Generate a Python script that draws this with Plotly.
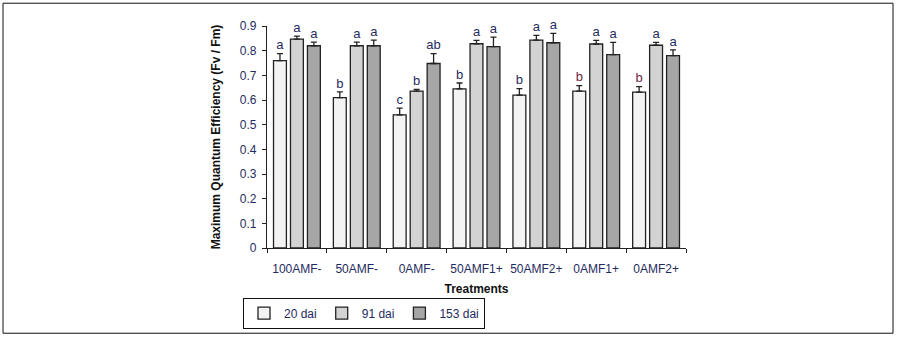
import plotly.graph_objects as go

treatments = ["100AMF-", "50AMF-", "0AMF-", "50AMF1+", "50AMF2+", "0AMF1+", "0AMF2+"]

dai20 = [0.76, 0.61, 0.54, 0.645, 0.62, 0.636, 0.632]
dai20_err = [0.028, 0.023, 0.027, 0.024, 0.026, 0.022, 0.022]
dai20_letters = ["a", "b", "c", "b", "b", "b", "b"]

dai91 = [0.847, 0.82, 0.636, 0.828, 0.843, 0.827, 0.822]
dai91_err = [0.012, 0.015, 0.007, 0.014, 0.019, 0.015, 0.012]
dai91_letters = ["a", "a", "b", "a", "a", "a", "a"]

dai153 = [0.82, 0.82, 0.748, 0.816, 0.832, 0.784, 0.78]
dai153_err = [0.015, 0.023, 0.04, 0.039, 0.038, 0.05, 0.023]
dai153_letters = ["a", "a", "ab", "a", "a", "a", "a"]

FONT = "Liberation Sans, Arial, sans-serif"
NARROW = "Liberation Sans Narrow, Arial Narrow, Liberation Sans, sans-serif"
NAVY = "#1f2b5e"
# the late "b"s are printed in maroon
dai20_letter_cols = [NAVY, NAVY, NAVY, NAVY, NAVY, "#6e1f45", "#6e1f45"]

series = [
    ("20 dai", dai20, dai20_err, dai20_letters, dai20_letter_cols, "#f3f3f3"),
    ("91 dai", dai91, dai91_err, dai91_letters, [NAVY] * 7, "#d3d3d3"),
    ("153 dai", dai153, dai153_err, dai153_letters, [NAVY] * 7, "#a6a6a6"),
]

BARGAP = 0.15
fig = go.Figure()
for name, vals, errs, letters, lcols, fill in series:
    fig.add_trace(go.Bar(
        x=treatments, y=vals, name=name,
        marker=dict(color=fill, line=dict(color="#222222", width=1.3)),
        error_y=dict(type="data", array=errs, symmetric=False, arrayminus=[0] * len(errs),
                     color="#222222", thickness=1.3, width=3),
    ))

# significance letters over each bar of the group
n = len(treatments)
slot = (1 - BARGAP) / 3
for (name, vals, errs, letters, lcols, fill), off in zip(series, [-1, 0, 1]):
    fig.add_trace(go.Scatter(
        x=[k + off * slot for k in range(n)],
        y=[v + e + 0.004 for v, e in zip(vals, errs)],
        mode="text", text=letters, textposition="top center",
        textfont=dict(family=FONT, size=13, color=lcols),
        showlegend=False, hoverinfo="skip", cliponaxis=False,
        xaxis="x2",
    ))

L, R, T, B = 267, 212, 26, 90
pw, ph = 898 - L - R, 340 - T - B

fig.update_layout(
    width=898, height=340,
    margin=dict(l=L, r=R, t=T, b=B),
    paper_bgcolor="white", plot_bgcolor="white",
    barmode="group", bargap=BARGAP, bargroupgap=0.24,
    font=dict(family=FONT, color=NAVY, size=12),
    xaxis=dict(
        automargin=False,
        showline=True, linecolor="#222222", linewidth=1.3,
        ticks="outside", ticklen=4, tickcolor="#222222", tickson="boundaries",
        showgrid=False, tickangle=0, tickfont=dict(size=12, color=NAVY), ticklabelstandoff=9,
        title=dict(text="<b>Treatments</b>", font=dict(size=12, color="#111111"), standoff=10),
    ),
    xaxis2=dict(overlaying="x", range=[-0.5, n - 0.5], visible=False),
    yaxis=dict(
        automargin=False,
        range=[0, 0.9], dtick=0.1, showline=True, linecolor="#222222", linewidth=1.3,
        ticks="outside", ticklen=4, tickcolor="#222222", showgrid=False, zeroline=False,
        tickfont=dict(size=12, color=NAVY), ticklabelstandoff=3,
        title=dict(text="<b>Maximum Quantum Efficiency (Fv / Fm)</b>",
                   font=dict(size=12, color="#111111"), standoff=16),
    ),
    legend=dict(
        orientation="h", x=(364 - L) / pw, y=(250 - 300) / ph, xanchor="center", yanchor="top",
        bordercolor="#111111", borderwidth=1, bgcolor="white",
        font=dict(family=NARROW, size=12, color=NAVY), itemwidth=30,
    ),
    shapes=[dict(type="rect", xref="paper", yref="paper",
                 x0=(3 - L) / pw, x1=(893 - L) / pw,
                 y0=(250 - 336) / ph, y1=(250 - 3) / ph,
                 line=dict(color="#111111", width=1))],
)

# drop the default body margin so the figure sits at the page corner
fig.write_html("out.html", config={"displayModeBar": False},
               post_script="document.body.style.margin='0';")
